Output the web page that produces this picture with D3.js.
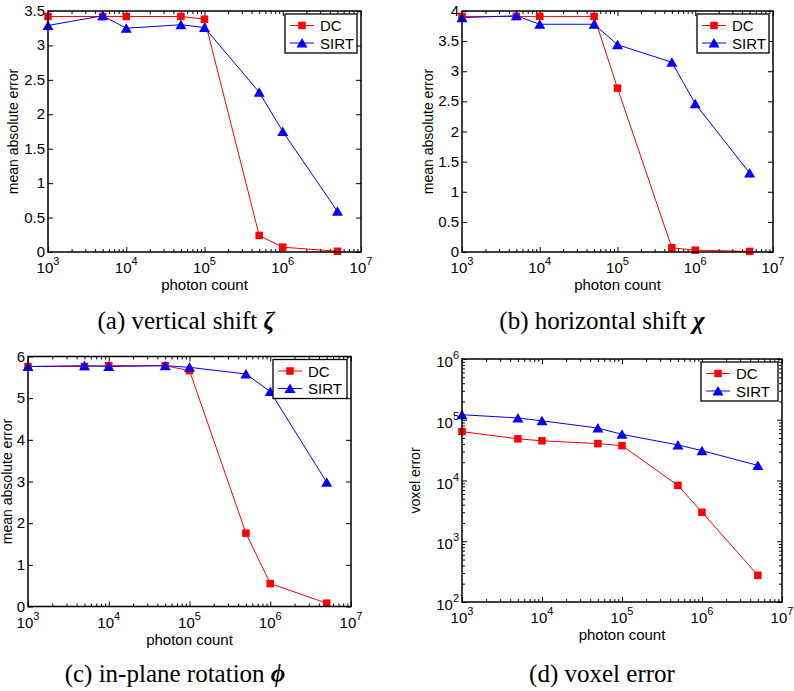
<!DOCTYPE html>
<html>
<head>
<meta charset="utf-8">
<script src="https://d3js.org/d3.v7.min.js"></script>
<style>
  body { margin: 0; background: #fff; }
  svg text { font-family: "Liberation Sans", Arial, Helvetica, sans-serif; fill: #000; }
  svg .caption { font-family: "Liberation Serif", "Times New Roman", serif; }
</style>
</head>
<body>
<div id="chart"></div>
<script>
// photon counts used on every panel
const photonCount = [1e3, 5e3, 1e4, 5e4, 1e5, 5e5, 1e6, 5e6];

// (a) vertical shift
const zetaDC   = [3.42, 3.42, 3.42, 3.42, 3.38, 0.24, 0.07, 0.01];
const zetaSIRT = [3.29, 3.43, 3.25, 3.30, 3.26, 2.32, 1.75, 0.59];
// (b) horizontal shift
const chiDC    = [3.91, 3.91, 3.91, 3.91, 2.72, 0.07, 0.03, 0.01];
const chiSIRT  = [3.89, 3.92, 3.78, 3.78, 3.44, 3.15, 2.46, 1.31];
// (c) in-plane rotation
const phiDC    = [5.76, 5.76, 5.78, 5.78, 5.66, 1.76, 0.55, 0.08];
const phiSIRT  = [5.76, 5.78, 5.76, 5.78, 5.74, 5.58, 5.16, 2.98];
// (d) voxel error
const voxelDC   = [63800, 48500, 45000, 40500, 37500, 8300, 3000, 275];
const voxelSIRT = [121000, 107000, 96000, 73000, 57500, 38500, 31000, 17700];

const seriesNames = ["DC", "SIRT"];
const xTicks = [1e3, 1e4, 1e5, 1e6, 1e7];
const yTicksZeta = [0, 0.5, 1, 1.5, 2, 2.5, 3, 3.5];
const yTicksChi = [0, 0.5, 1, 1.5, 2, 2.5, 3, 3.5, 4];
const yTicksPhi = [0, 1, 2, 3, 4, 5, 6];
const yTicksVoxel = [1e2, 1e3, 1e4, 1e5, 1e6];
const captions = [
    ["(a) vertical shift ", "ζ"],
    ["(b) horizontal shift ", "χ"],
    ["(c) in-plane rotation ", "ϕ"],
    ["(d) voxel error", ""]
];

const svg = d3.select("#chart")
    .append("svg")
    .attr("width", 794)
    .attr("height", 691);

const red = "#ff0000", blue = "#0000ff";

// minor ticks for log axes (2..9 x 10^k)
const minorTicks = (lo, hi) => {
    const t = [];
    for (let k = lo; k < hi; k++)
        for (let m = 2; m <= 9; m++) t.push(m * Math.pow(10, k));
    return t;
};

const supLabel = (sel, d) => {
    const e = Math.round(Math.log10(d));
    sel.text("");
    sel.append("tspan").text("10");
    sel.append("tspan").attr("dy", -8).style("font-size", "11px").text(e);
};

let drawPanel = (p) => {
    const g = svg.append("g");
    const w = p.right - p.left, h = p.bottom - p.top;

    const x = d3.scaleLog().domain([1e3, 1e7]).range([p.left, p.right]);
    const y = (p.yLog ? d3.scaleLog() : d3.scaleLinear())
        .domain(p.yDomain).range([p.bottom, p.top]);

    // ticks, all pointing inward (matlab style)
    const tickAxis = (axis, tx, ty, vals, size) => {
        g.append("g")
            .attr("transform", "translate(" + tx + "," + ty + ")")
            .call(axis.tickValues(vals).tickSize(-size).tickFormat(""))
            .call(a => a.select(".domain").remove())
            .selectAll("line").attr("stroke", "#000").attr("stroke-width", 1);
    };
    tickAxis(d3.axisBottom(x), 0, p.bottom, xTicks, 5);
    tickAxis(d3.axisTop(x), 0, p.top, xTicks, 5);
    tickAxis(d3.axisBottom(x), 0, p.bottom, minorTicks(3, 7), 3);
    tickAxis(d3.axisTop(x), 0, p.top, minorTicks(3, 7), 3);
    tickAxis(d3.axisLeft(y), p.left, 0, p.yTicks, 5);
    tickAxis(d3.axisRight(y), p.right, 0, p.yTicks, 5);
    if (p.yLog) {
        tickAxis(d3.axisLeft(y), p.left, 0, minorTicks(2, 6), 3);
        tickAxis(d3.axisRight(y), p.right, 0, minorTicks(2, 6), 3);
    }

    // x tick labels
    g.selectAll(".xl")
        .data(xTicks)
        .enter()
        .append("text")
        .attr("x", d => x(d))
        .attr("y", p.bottom + 21)
        .attr("text-anchor", "middle")
        .style("font-size", "15px")
        .each(function(d) { supLabel(d3.select(this), d); });

    // y tick labels
    g.selectAll(".yl")
        .data(p.yTicks)
        .enter()
        .append("text")
        .attr("x", p.left - 3)
        .attr("y", d => y(d) + (p.yLog ? 8 : 5))
        .attr("text-anchor", "end")
        .style("font-size", "15px")
        .each(function(d) {
            if (p.yLog) supLabel(d3.select(this), d);
            else d3.select(this).text(d);
        });

    // axis titles
    g.append("text")
        .attr("x", (p.left + p.right) / 2)
        .attr("y", p.bottom + 38)
        .attr("text-anchor", "middle")
        .style("font-size", "15px")
        .text("photon count");
    g.append("text")
        .attr("transform", "translate(" + p.yLabelX + "," + (p.top + p.bottom) / 2 + ")rotate(-90)")
        .attr("text-anchor", "middle")
        .attr("dy", "0.35em")
        .style("font-size", "14px")
        .text(p.yLabel);

    // lines
    const line = d3.line().x((d, i) => x(photonCount[i])).y(d => y(d));
    g.append("path").datum(p.dc).attr("d", line)
        .attr("fill", "none").attr("stroke", red).attr("stroke-width", 1);
    g.append("path").datum(p.sirt).attr("d", line)
        .attr("fill", "none").attr("stroke", blue).attr("stroke-width", 1);

    // markers
    const tri = "M0,-5L5.5,4.5L-5.5,4.5Z";
    g.selectAll(".sq")
        .data(p.dc)
        .enter()
        .append("rect")
        .attr("x", (d, i) => x(photonCount[i]) - 3.75)
        .attr("y", d => y(d) - 3.75)
        .attr("width", 7.5).attr("height", 7.5)
        .attr("fill", red);
    g.selectAll(".tri")
        .data(p.sirt)
        .enter()
        .append("path")
        .attr("d", tri)
        .attr("transform", (d, i) => "translate(" + x(photonCount[i]) + "," + y(d) + ")")
        .attr("fill", blue);

    // box
    g.append("rect")
        .attr("x", p.left).attr("y", p.top)
        .attr("width", w).attr("height", h)
        .attr("fill", "none").attr("stroke", "#000").attr("stroke-width", 1.5);

    // legend
    const lx = p.right - 4 - p.legW, ly = p.top + 3;
    const lg = g.append("g").attr("transform", "translate(" + lx + "," + ly + ")");
    lg.append("rect")
        .attr("width", p.legW).attr("height", 39)
        .attr("fill", "#fff").attr("stroke", "#000").attr("stroke-width", 1.3);
    seriesNames.forEach((name, i) => {
        const ry = 11.5 + i * 17.5, col = i == 0 ? red : blue;
        lg.append("line")
            .attr("x1", 5).attr("x2", 29).attr("y1", ry).attr("y2", ry)
            .attr("stroke", col).attr("stroke-width", 1);
        if (i == 0)
            lg.append("rect").attr("x", 17 - 3.75).attr("y", ry - 3.75)
                .attr("width", 7.5).attr("height", 7.5).attr("fill", red);
        else
            lg.append("path").attr("d", tri)
                .attr("transform", "translate(17," + ry + ")").attr("fill", blue);
        lg.append("text")
            .attr("x", 35).attr("y", ry + 5.5)
            .style("font-size", "15px")
            .text(name);
    });

    // caption
    const cap = svg.append("text")
        .attr("class", "caption")
        .attr("x", p.capX).attr("y", p.capY)
        .attr("text-anchor", "middle")
        .style("font-size", "25px");
    cap.append("tspan").text(p.caption[0]);
    cap.append("tspan").style("font-style", "italic").style("font-weight", "bold").text(p.caption[1]);
};

drawPanel({ left: 48, right: 361, top: 11, bottom: 252, yDomain: [0, 3.5], yTicks: yTicksZeta,
    yLabel: "mean absolute error", yLabelX: 13, dc: zetaDC, sirt: zetaSIRT, legW: 72,
    caption: captions[0], capX: 186, capY: 329 });
drawPanel({ left: 462, right: 773, top: 11, bottom: 252, yDomain: [0, 4], yTicks: yTicksChi,
    yLabel: "mean absolute error", yLabelX: 428, dc: chiDC, sirt: chiSIRT, legW: 72,
    caption: captions[1], capX: 602, capY: 329 });
drawPanel({ left: 28, right: 351, top: 356.5, bottom: 606.5, yDomain: [0, 6], yTicks: yTicksPhi,
    yLabel: "mean absolute error", yLabelX: 7, dc: phiDC, sirt: phiSIRT, legW: 74,
    caption: captions[2], capX: 175, capY: 682 });
drawPanel({ left: 462, right: 782, top: 359, bottom: 602, yDomain: [1e2, 1e6], yTicks: yTicksVoxel, yLog: true,
    yLabel: "voxel error", yLabelX: 415, dc: voxelDC, sirt: voxelSIRT, legW: 77,
    caption: captions[3], capX: 602, capY: 682 });
</script>
</body>
</html>
